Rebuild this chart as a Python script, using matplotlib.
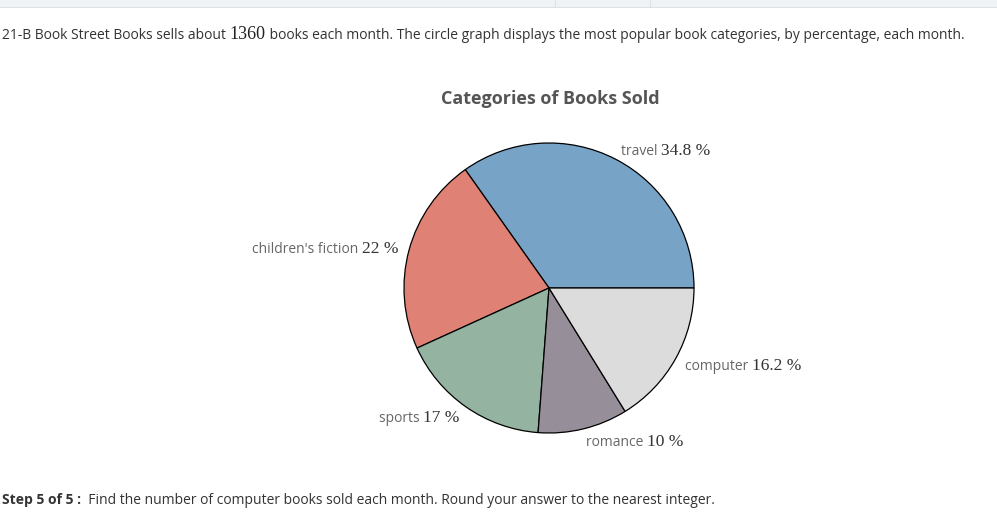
import numpy as np
import matplotlib
matplotlib.use('Agg')
import matplotlib.pyplot as plt
from matplotlib.transforms import IdentityTransform
from matplotlib.patches import Rectangle

# chart data
categories = ['travel', "children's fiction", 'sports', 'romance', 'computer']
percents = [34.8, 22, 17, 10, 16.2]
value_labels = ['34.8 %', '22 %', '17 %', '10 %', '16.2 %']
colors = ['#77a3c7', '#df8174', '#94b3a0', '#968e99', '#dcdcdc']

W, H = 997, 521
fig = plt.figure(figsize=(W / 100, H / 100), dpi=100)
fig.patch.set_facecolor('white')

sans = 'Open Sans'
serif = 'Liberation Serif'


def write(x, y, pieces, ha='left'):
    # pieces: list of (text, kwargs); x, y in pixels from top-left, y = baseline
    renderer = fig.canvas.get_renderer()
    seq = pieces if ha == 'left' else pieces[::-1]
    cur = x
    for txt, kw in seq:
        t = fig.text(cur, H - y, txt, transform=IdentityTransform(),
                     ha=ha, va='baseline', **kw)
        bb = t.get_window_extent(renderer)
        cur = bb.x1 if ha == 'left' else bb.x0


# top toolbar strip
fig.patches.append(Rectangle((0, H - 7), W, 7, transform=IdentityTransform(),
                             facecolor='#f0f3f6', edgecolor='none'))
fig.patches.append(Rectangle((0, H - 8), W, 1, transform=IdentityTransform(),
                             facecolor='#dde1e5', edgecolor='none'))
for sx in [555, 650]:
    fig.patches.append(Rectangle((sx, H - 7), 1, 7, transform=IdentityTransform(),
                                 facecolor='#dde1e5', edgecolor='none'))

body = dict(family=sans, fontsize=10, color='#333333')
write(2, 39, [('21-B Book Street Books sells about ', body),
              ('1360', dict(family=serif, fontsize=13, color='#222222')),
              (' books each month. The circle graph displays the most popular book categories, by percentage, each month.', body)])

write(2, 504, [('Step 5 of 5 :', dict(family=sans, fontsize=10, color='#333333', weight='bold')),
               ('  Find the number of computer books sold each month. Round your answer to the nearest integer.', body)])

# title
fig.text(550 / W, 1 - 104 / H, 'Categories of Books Sold', ha='center', va='baseline',
         family=sans, fontsize=13, weight='bold', color='#555555')

# pie
cx, cy, r = 549, 288, 145
ax = fig.add_axes([(cx - r) / W, (H - cy - r) / H, 2 * r / W, 2 * r / H])
wedges, _ = ax.pie(percents, colors=colors, startangle=0, counterclock=True,
                   wedgeprops=dict(edgecolor='black', linewidth=0.9))
ax.set_xlim(-1, 1)
ax.set_ylim(-1, 1)
ax.axis('off')

# data labels
start = 0
for name, pct, vl in zip(categories, percents, value_labels):
    mid = start + pct * 3.6 / 2
    start += pct * 3.6
    a = np.deg2rad(mid)
    lx = cx + 156 * np.cos(a)
    ly = cy - 156 * np.sin(a) + 6
    ha = 'left' if np.cos(a) >= 0 else 'right'
    write(lx, ly, [(name + ' ', dict(family=sans, fontsize=10, color='#666666')),
                   (vl, dict(family=serif, fontsize=12.5, color='#333333'))], ha=ha)

fig.savefig('out.png', dpi=100)
